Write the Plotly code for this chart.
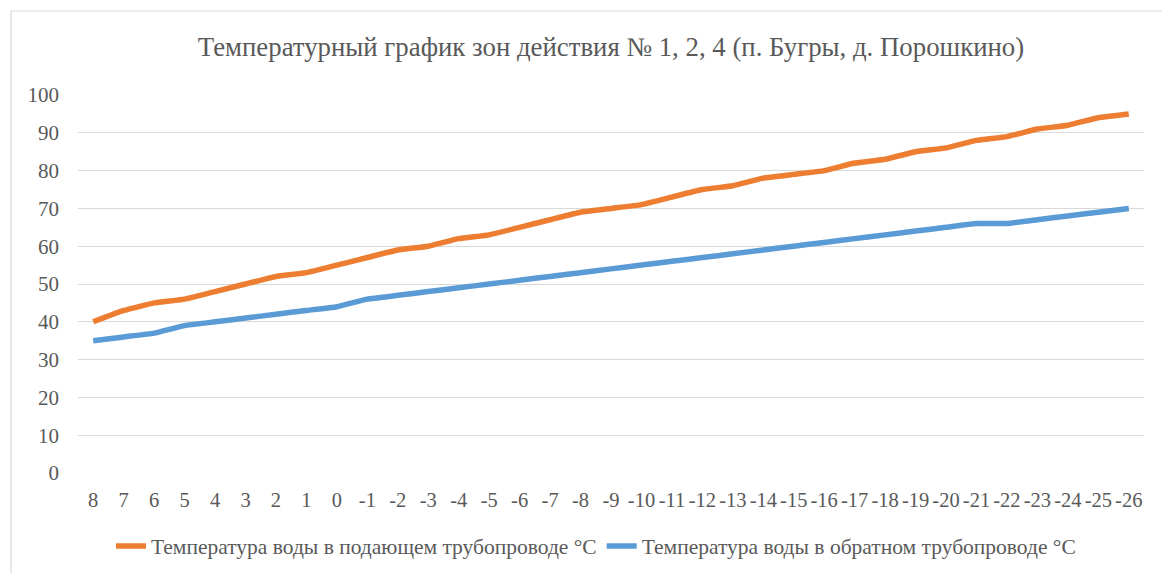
import plotly.graph_objects as go

categories = ["8", "7", "6", "5", "4", "3", "2", "1", "0", "-1", "-2", "-3", "-4", "-5", "-6", "-7", "-8",
              "-9", "-10", "-11", "-12", "-13", "-14", "-15", "-16", "-17", "-18", "-19", "-20", "-21",
              "-22", "-23", "-24", "-25", "-26"]
supply = [40, 43, 45, 46, 48, 50, 52, 53, 55, 57, 59, 60, 62, 63, 65, 67, 69, 70, 71, 73, 75, 76, 78, 79,
          80, 82, 83, 85, 86, 88, 89, 91, 92, 94, 95]
ret = [35, 36, 37, 39, 40, 41, 42, 43, 44, 46, 47, 48, 49, 50, 51, 52, 53, 54, 55, 56, 57, 58, 59, 60,
       61, 62, 63, 64, 65, 66, 66, 67, 68, 69, 70]
y_ticks = [0, 10, 20, 30, 40, 50, 60, 70, 80, 90, 100]

title = "Температурный график зон действия № 1, 2, 4 (п. Бугры, д. Порошкино)"
name_supply = "Температура воды в подающем трубопроводе °C"
name_return = "Температура воды в обратном трубопроводе °C"

FONT = "Liberation Serif"
GRAY = "#595959"

fig = go.Figure()
fig.add_trace(go.Scatter(x=categories, y=supply, mode="lines", name=name_supply,
                         line=dict(color="#ED7D31", width=5.5, shape="spline", smoothing=0.3)))
fig.add_trace(go.Scatter(x=categories, y=ret, mode="lines", name=name_return,
                         line=dict(color="#5B9BD5", width=5.5, shape="spline", smoothing=0.3)))

W, H = 1162, 573
L, R, T, B = 78, 18, 95, 100
pw, ph = W - L - R, H - T - B

def px_x(x):
    return (x - L) / pw

def px_y(y):
    return (H - B - y) / ph

fig.add_shape(type="rect", xref="paper", yref="paper",
              x0=px_x(11), x1=px_x(1175), y0=px_y(585), y1=px_y(11),
              line=dict(color="#D9D9D9", width=1.2), fillcolor="rgba(0,0,0,0)", layer="below")

fig.update_layout(
    width=W, height=H,
    margin=dict(l=L, r=R, t=T, b=B, autoexpand=False),
    paper_bgcolor="white", plot_bgcolor="white",
    font=dict(family=FONT, color=GRAY, size=20),
    title=dict(text=title, x=0.5, xref="paper", y=1 - 47 / H, yref="container", yanchor="middle",
               font=dict(family=FONT, size=26.8, color=GRAY)),
    xaxis=dict(type="category", categoryorder="array", categoryarray=categories,
               range=[-0.5, len(categories) - 0.5], showgrid=False, zeroline=False,
               showline=False, ticks="", tickfont=dict(family=FONT, size=20.5, color=GRAY),
               ticklabelstandoff=12),
    yaxis=dict(range=[0, 100], tickvals=y_ticks, showgrid=True, gridcolor="#D9D9D9", gridwidth=1.2,
               zeroline=False, showline=False, ticks="", tickfont=dict(family=FONT, size=21, color=GRAY),
               ticklabelstandoff=18),
    showlegend=True,
    legend=dict(orientation="h", x=596 / W, xref="container", xanchor="center",
                y=1 - 546 / H, yref="container", yanchor="middle",
                font=dict(family=FONT, size=21.5, color=GRAY), bgcolor="rgba(0,0,0,0)",
                traceorder="normal"),
)

fig.write_html("out.html", config={"displayModeBar": False},
               post_script="document.body.style.margin='0';")
